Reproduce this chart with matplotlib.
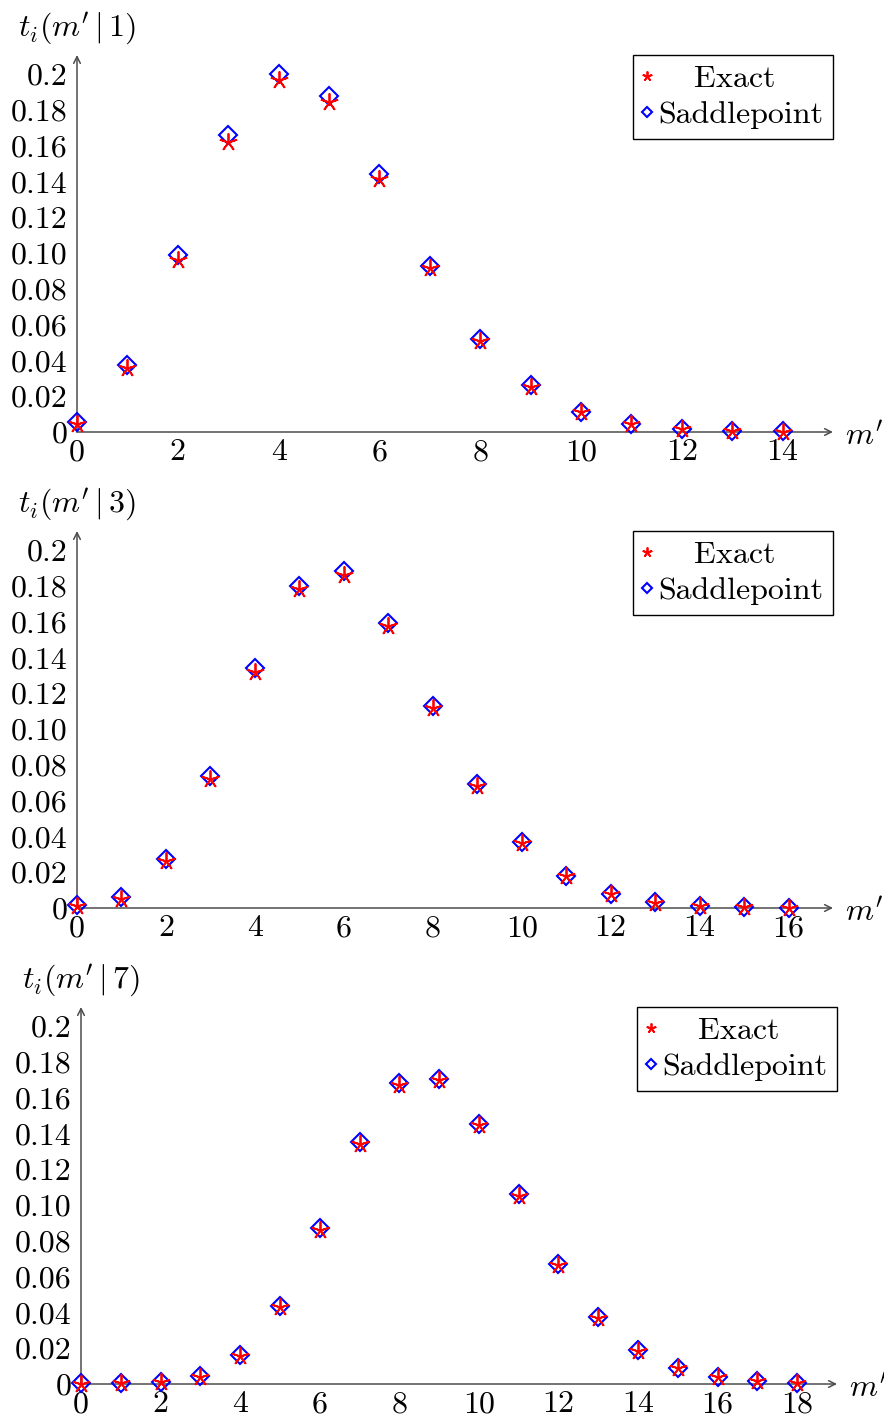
import matplotlib
matplotlib.use("Agg")
import matplotlib.pyplot as plt

plt.rcParams['font.family'] = ['cmr10']
plt.rcParams['mathtext.fontset'] = 'cm'
plt.rcParams['axes.unicode_minus'] = False
plt.rcParams['axes.formatter.use_mathtext'] = True
plt.rcParams['font.size'] = 23

# ---- data ----
m1 = list(range(0, 15))
exact1 = [0.0045, 0.0355, 0.0960, 0.1620, 0.1965, 0.1845, 0.1415, 0.0915,
          0.0510, 0.0253, 0.0110, 0.0043, 0.0016, 0.0006, 0.0002]
saddle1 = [0.0055, 0.0372, 0.0990, 0.1660, 0.2000, 0.1875, 0.1440, 0.0930,
           0.0520, 0.0260, 0.0113, 0.0046, 0.0019, 0.0008, 0.0004]

m2 = list(range(0, 17))
exact2 = [0.0010, 0.0052, 0.0262, 0.0720, 0.1320, 0.1780, 0.1860, 0.1575,
          0.1120, 0.0682, 0.0365, 0.0176, 0.0077, 0.0030, 0.0011, 0.0004, 0.0001]
saddle2 = [0.0015, 0.0062, 0.0275, 0.0735, 0.1340, 0.1800, 0.1880, 0.1590,
           0.1130, 0.0690, 0.0370, 0.0180, 0.0080, 0.0032, 0.0012, 0.0005, 0.0002]

m3 = list(range(0, 19))
exact3 = [0.0002, 0.0004, 0.0010, 0.0040, 0.0155, 0.0428, 0.0860, 0.1340,
          0.1672, 0.1698, 0.1448, 0.1052, 0.0663, 0.0370, 0.0186, 0.0087,
          0.0038, 0.0015, 0.0005]
saddle3 = [0.0005, 0.0007, 0.0012, 0.0045, 0.0160, 0.0435, 0.0870, 0.1350,
           0.1680, 0.1705, 0.1455, 0.1060, 0.0670, 0.0375, 0.0190, 0.0090,
           0.0040, 0.0016, 0.0006]

conditions = ['1', '3', '7']
yticks = [0, 0.02, 0.04, 0.06, 0.08, 0.10, 0.12, 0.14, 0.16, 0.18, 0.2]
ytick_labels = ['0', '0.02', '0.04', '0.06', '0.08', '0.10', '0.12', '0.14',
                '0.16', '0.18', '0.2']
legend_labels = ['Exact', 'Saddlepoint']

panels = [
    (m1, exact1, saddle1, list(range(0, 15, 2))),
    (m2, exact2, saddle2, list(range(0, 17, 2))),
    (m3, exact3, saddle3, list(range(0, 19, 2))),
]

W, H = 884, 1421
fig = plt.figure(figsize=(W / 100, H / 100), dpi=100)

# pixel geometry (left, right, y0, top)
geom = [(77, 833, 432, 55), (77, 833, 908, 531), (81, 837, 1384, 1007)]

for (m, ex, sp, xt), cond, (l, r, y0, t) in zip(panels, conditions, geom):
    ax = fig.add_axes([l / W, 1 - y0 / H, (r - l) / W, (y0 - t) / H])
    ax.set_xlim(0, len(m))
    ax.set_ylim(0, 0.2106)
    for s in ax.spines.values():
        s.set_visible(False)
    ax.set_yticks(yticks, ytick_labels)
    ax.set_xticks(xt, [str(v) for v in xt])
    ax.tick_params(length=0, labelsize=23)
    ax.tick_params(axis='y', pad=7)
    ax.tick_params(axis='x', pad=5)

    hs, = ax.plot(m, sp, linestyle='none', marker='D', ms=9, mfc='none',
                  mec='blue', mew=1.5, clip_on=False, zorder=3)
    he, = ax.plot(m, ex, linestyle='none', marker=(5, 2, 0), ms=13,
                  color='red', mew=1.3, clip_on=False, zorder=4)

    arrow = dict(arrowstyle='->', lw=1.1, color='0.3', shrinkA=0, shrinkB=0,
                 mutation_scale=12)
    ax.annotate('', xy=(1, 0), xytext=(0, 0), xycoords='axes fraction',
                textcoords='axes fraction', arrowprops=arrow, zorder=1)
    ax.annotate('', xy=(0, 1), xytext=(0, 0), xycoords='axes fraction',
                textcoords='axes fraction', arrowprops=arrow, zorder=1)

    ax.annotate(r"$t_i(m'\,|\,%s)$" % cond, xy=(0, 1), xycoords='axes fraction',
                xytext=(0, 19), textcoords='offset points', ha='center',
                va='center', fontsize=23)
    ax.annotate(r"$m'$", xy=(1, 0), xycoords='axes fraction',
                xytext=(8.5, -3.5), textcoords='offset points', ha='left',
                va='center', fontsize=23)

    leg = ax.legend([he, hs], [r'$\quad\;$' + legend_labels[0], legend_labels[1]],
                    loc='upper right', bbox_to_anchor=(1, 1), borderaxespad=0,
                    frameon=True, fancybox=False, edgecolor='black',
                    framealpha=1, markerscale=0.55, handlelength=0.3,
                    handletextpad=0.2, borderpad=0.3, labelspacing=0.25,
                    fontsize=23)
    leg.get_frame().set_linewidth(1.0)

fig.savefig('out.png', dpi=100)
